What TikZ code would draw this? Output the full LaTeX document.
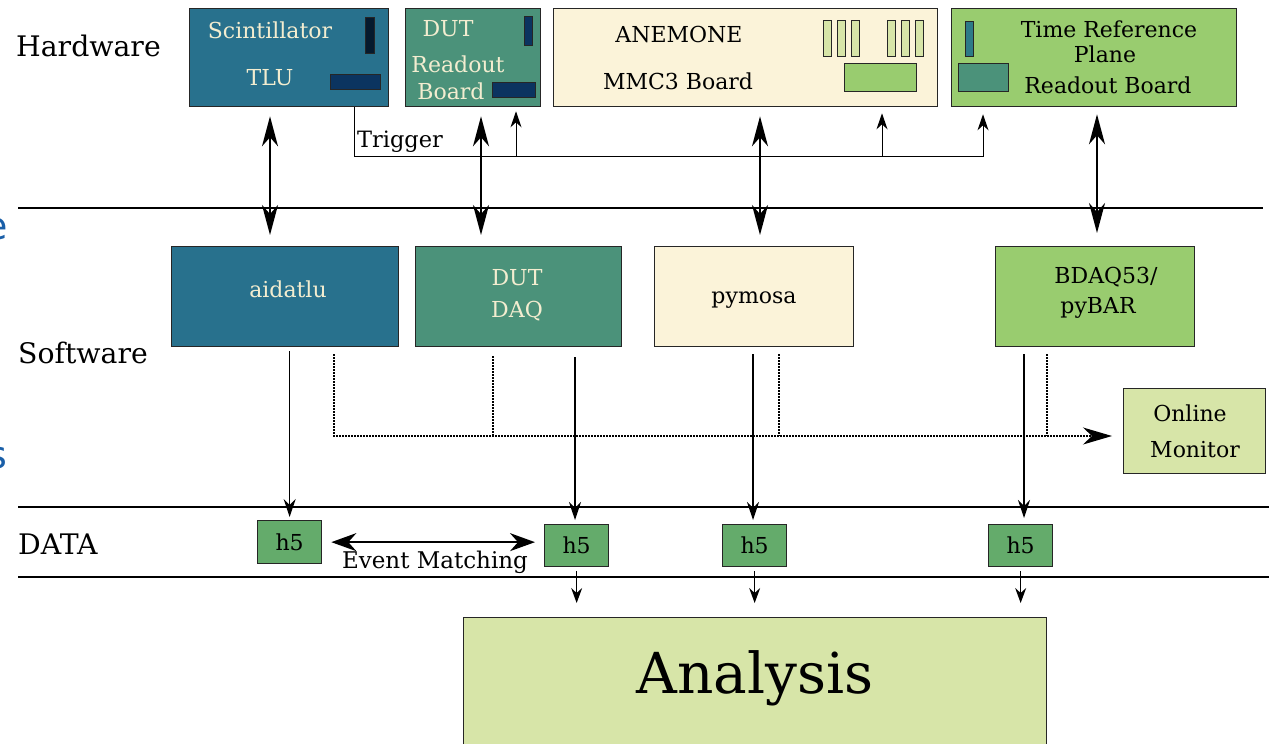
\documentclass[tikz,border=0pt]{standalone}
\usepackage{fontspec}
\setmainfont{DejaVu Serif}
\setsansfont{DejaVu Sans}
\usetikzlibrary{arrows.meta,calc}

\definecolor{tluc}{HTML}{28718D}
\definecolor{dutc}{HTML}{4B927A}
\definecolor{creamc}{HTML}{FBF3D9}
\definecolor{midgreen}{HTML}{99CC6F}
\definecolor{palegreen}{HTML}{D7E5A8}
\definecolor{hfive}{HTML}{64AB6B}
\definecolor{navy}{HTML}{0B3460}
\definecolor{darknavy}{HTML}{051A2E}
\definecolor{plane}{HTML}{2D7A88}
\definecolor{lighttext}{HTML}{F3EDD0}
\definecolor{slideblue}{HTML}{1A5FA8}

\begin{document}
\begin{tikzpicture}[x=1pt,y=-1pt,
  box/.style={draw=black!85, line width=1.3pt, inner sep=0pt, anchor=north west},
  chip/.style={draw=black!85, line width=1pt, inner sep=0pt, anchor=north west},
  lbl/.style={inner sep=0pt, font=\fontsize{22}{26}\selectfont},
  sect/.style={inner sep=0pt, anchor=west, font=\fontsize{28.3}{32}\selectfont},
  sep/.style={line width=1.2pt},
  dbl/.style={line width=1.8pt, {Stealth[length=30pt,width=16pt,inset=9pt]}-{Stealth[length=30pt,width=16pt,inset=9pt]}},
  up/.style={line width=1pt, -{Stealth[length=16pt,width=11pt,inset=5pt]}},
  dn/.style={line width=1.2pt, -{Stealth[length=18pt,width=12pt,inset=6pt]}},
  small/.style={line width=1.2pt, -{Stealth[length=15pt,width=11pt,inset=5pt]}},
  match/.style={line width=2pt, {Stealth[length=25pt,width=18pt,inset=8pt]}-{Stealth[length=25pt,width=18pt,inset=8pt]}},
  dots/.style={line width=1.3pt, dash pattern=on 1.2pt off 1.8pt},
  dotarrow/.style={dots, -{Stealth[length=29pt,width=17pt,inset=9pt]}}
]
\useasboundingbox (0,0) rectangle (1269,744);

% fragments of blue lettering at the left edge
\node[inner sep=0pt, anchor=east, text=slideblue, font=\sffamily\fontsize{38}{40}\selectfont] (edgeE) at (8,229) {e};
\node[inner sep=0pt, anchor=east, text=slideblue, font=\sffamily\fontsize{38}{40}\selectfont] (edgeS) at (7,458) {s};

% section labels and separators
\node[sect] (hwlbl) at (16,46) {Hardware};
\node[sect] (swlbl) at (18,353) {Software};
\node[sect] (datalbl) at (18,544) {DATA};
\draw[sep] (18,208) -- (1263,208);
\draw[sep] (18,507) -- (1269,507);
\draw[sep] (18,577) -- (1269,577);

% ---------------- hardware ----------------
\node[box, fill=tluc, minimum width=199pt, minimum height=98pt] (tlu) at (189,8) {};
\node[chip, fill=darknavy, minimum width=9pt, minimum height=36pt] (tluchipA) at (365,17) {};
\node[chip, fill=navy, minimum width=50pt, minimum height=15pt] (tluchipB) at (330,74) {};
\node[lbl, text=lighttext] (tluT1) at (270,30) {Scintillator};
\node[lbl, text=lighttext] (tluT2) at (270,78) {TLU};

\node[box, fill=dutc, minimum width=135pt, minimum height=98pt] (dut) at (405,8) {};
\node[chip, fill=navy, minimum width=8pt, minimum height=29pt] (dutchipA) at (524,16) {};
\node[chip, fill=navy, minimum width=43pt, minimum height=15pt] (dutchipB) at (492,82) {};
\node[lbl, text=lighttext] (dutT1) at (448,29) {DUT};
\node[lbl, text=lighttext] (dutT2) at (458,64) {Readout};
\node[lbl, text=lighttext] (dutT3) at (451,91) {Board};

\node[box, fill=creamc, minimum width=384pt, minimum height=98pt] (mmc) at (553,8) {};
\foreach \bx [count=\i] in {823,837,851,887,901,915}
  \node[chip, fill=palegreen, minimum width=8pt, minimum height=36pt] (bar\i) at (\bx,20) {};
\node[chip, fill=midgreen, minimum width=72pt, minimum height=28pt] (mmcchip) at (844,63) {};
\node[lbl] (mmcT1) at (679,34) {ANEMONE};
\node[lbl] (mmcT2) at (678,81) {MMC3 Board};

\node[box, fill=midgreen, minimum width=285pt, minimum height=98pt] (trp) at (951,8) {};
\node[chip, fill=plane, minimum width=8pt, minimum height=35pt] (trpchipA) at (965,21) {};
\node[chip, fill=dutc, minimum width=50pt, minimum height=28pt] (trpchipB) at (958,63) {};
\node[lbl] (trpT1) at (1109,29) {Time Reference};
\node[lbl] (trpT2) at (1105,54) {Plane};
\node[lbl] (trpT3) at (1108,85) {Readout Board};

% ---------------- software ----------------
\node[box, fill=tluc, minimum width=227pt, minimum height=100pt] (aidatlu) at (171,246) {};
\node[lbl, text=lighttext] (aidatluT) at (288,289) {aidatlu};

\node[box, fill=dutc, minimum width=206pt, minimum height=100pt] (dutdaq) at (415,246) {};
\node[lbl, text=lighttext] (dutdaqT1) at (517,278) {DUT};
\node[lbl, text=lighttext] (dutdaqT2) at (517,311) {DAQ};

\node[box, fill=creamc, minimum width=199pt, minimum height=100pt] (pymosa) at (654,246) {};
\node[lbl] (pymosaT) at (754,300) {pymosa};

\node[box, fill=midgreen, minimum width=199pt, minimum height=100pt] (bdaq) at (995,246) {};
\node[lbl] (bdaqT1) at (1106,277) {BDAQ53/};
\node[lbl] (bdaqT2) at (1098,308) {pyBAR};

\node[box, fill=palegreen, minimum width=142pt, minimum height=85pt] (om) at (1123,388) {};
\node[lbl] (omT1) at (1190,413) {Online};
\node[lbl] (omT2) at (1195,450) {Monitor};

% ---------------- data ----------------
\node[box, fill=hfive, minimum width=64pt, minimum height=43pt] (h5a) at (257,520) {};
\node[box, fill=hfive, minimum width=64pt, minimum height=42pt] (h5b) at (544,524) {};
\node[box, fill=hfive, minimum width=64pt, minimum height=42pt] (h5c) at (722,524) {};
\node[box, fill=hfive, minimum width=64pt, minimum height=42pt] (h5d) at (988,524) {};
\node[lbl] (h5aT) at (h5a.center) {h5};
\node[lbl] (h5bT) at (h5b.center) {h5};
\node[lbl] (h5cT) at (h5c.center) {h5};
\node[lbl] (h5dT) at (h5d.center) {h5};

\node[box, fill=palegreen, minimum width=583pt, minimum height=140pt] (analysis) at (463,617) {};
\node[inner sep=0pt, font=\fontsize{56.5}{60}\selectfont] (analysisT) at (755,678) {Analysis};

% ---------------- connectors ----------------
\coordinate (xa) at (270,0);
\coordinate (xb) at (481,0);
\coordinate (xc) at (760,0);
\coordinate (xd) at (1097,0);
\draw[dbl, shorten <=9pt, shorten >=11pt] (tlu.south -| xa) -- (aidatlu.north -| xa);
\draw[dbl, shorten <=9pt, shorten >=11pt] (dut.south -| xb) -- (dutdaq.north -| xb);
\draw[dbl, shorten <=9pt, shorten >=11pt] (mmc.south -| xc) -- (pymosa.north -| xc);
\draw[dbl, shorten <=7pt, shorten >=13pt] (trp.south -| xd) -- (bdaq.north -| xd);

% trigger distribution
\coordinate (trgx) at (354,0);
\coordinate (trigbus) at (983,156);
\coordinate (tb1) at (516,156);
\coordinate (tb2) at (882,156);
\draw[up, shorten >=7pt] (tlu.south -| trgx) |- (trigbus) -- (trp.south -| trigbus);
\draw[up, shorten >=4pt] (tb1) -- (dut.south -| tb1);
\draw[up, shorten >=6pt] (tb2) -- (mmc.south -| tb2);
\node[inner sep=0pt, font=\fontsize{22.5}{26}\selectfont] (trigT) at (400,142) {Trigger};

% raw data to files
\coordinate (xe) at (575,0);
\coordinate (xf) at (753,0);
\coordinate (xg) at (1024,0);
\draw[dn, shorten <=4pt, shorten >=3pt] (aidatlu.south -| h5a.north) -- (h5a.north);
\draw[dn, shorten <=10pt, shorten >=4pt] (dutdaq.south -| xe) -- (h5b.north -| xe);
\draw[dn, shorten <=7pt, shorten >=4pt] (pymosa.south -| xf) -- (h5c.north -| xf);
\draw[dn, shorten <=7pt, shorten >=6pt] (bdaq.south -| xg) -- (h5d.north -| xg);

% online monitoring stream
\coordinate (dotrow) at (0,436);
\coordinate (da) at (334,0);
\coordinate (db) at (493,0);
\coordinate (dc) at (779,0);
\coordinate (dd) at (1047,0);
\draw[dotarrow, shorten >=11pt] (aidatlu.south -| da) ++(0,7) |- (om.west |- dotrow);
\draw[dots, shorten <=9pt] (dutdaq.south -| db) -- (db |- dotrow);
\draw[dots, shorten <=7pt] (pymosa.south -| dc) -- (dc |- dotrow);
\draw[dots, shorten <=7pt] (bdaq.south -| dd) -- (dd |- dotrow);

% event matching
\draw[match, shorten <=9pt, shorten >=9pt] (h5a.east) -- (h5b.west |- h5a.east);
\node[inner sep=0pt, font=\fontsize{23}{26}\selectfont] (matchT) at (435,562) {Event Matching};

% files to analysis
\draw[small, shorten <=4pt, shorten >=14pt] (h5b.south) -- (analysis.north -| h5b.south);
\draw[small, shorten <=4pt, shorten >=14pt] (h5c.south) -- (analysis.north -| h5c.south);
\draw[small, shorten <=4pt, shorten >=14pt] (h5d.south) -- (analysis.north -| h5d.south);
\end{tikzpicture}
\end{document}
